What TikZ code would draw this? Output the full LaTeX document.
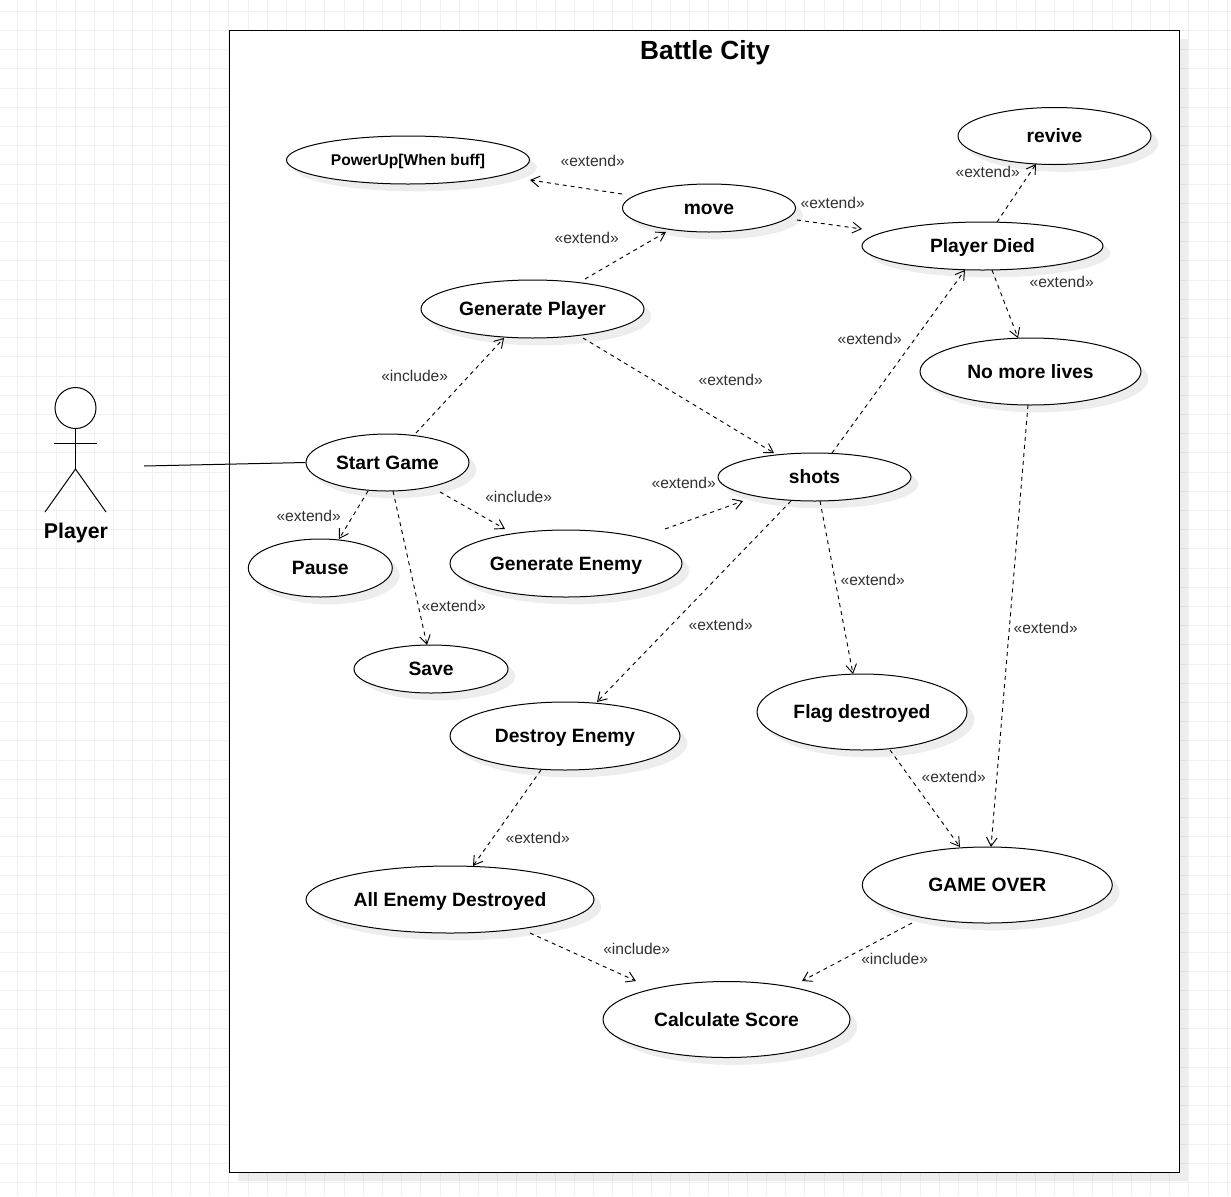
\documentclass[tikz,border=0pt]{standalone}
\usepackage{fontspec}
\setmainfont{Liberation Sans}
\usetikzlibrary{arrows.meta,calc,shadows,shapes.geometric}
\definecolor{gridc}{HTML}{F0F0F0}
\definecolor{labc}{HTML}{303030}
\tikzset{
  px/.style={x=0.75pt,y=-0.75pt},
  softshadow/.style={drop shadow={shadow xshift=#1,shadow yshift=-#1,opacity=.07,fill=black}},
  usecase/.style 2 args={ellipse,draw=black,fill=white,line width=.75pt,inner sep=0pt,
    minimum width=#1*0.75pt,minimum height=#2*0.75pt,softshadow=5.5pt,
    text height=10.4pt,text depth=0pt,
    font=\fontsize{14.45pt}{17pt}\selectfont\bfseries},
  syslabel/.style={inner sep=0pt,text=black,text height=11.4pt,text depth=0pt,font=\fontsize{16pt}{19pt}\selectfont\bfseries},
  steretype/.style={font=\fontsize{11.7pt}{14pt}\selectfont,text=labc,inner sep=0pt,xshift=.5pt,yshift=-.2pt},
  relation/.style={draw=black,line width=.7pt,dash pattern=on 3pt off 3pt,-{Straight Barb[length=6.5pt,width=8pt]}},
  assoc/.style={draw=black,line width=.75pt},
  actorline/.style={draw=black,line width=.75pt},
}
\begin{document}
\begin{tikzpicture}[px]
\useasboundingbox (0,0) rectangle (1231,1196);
\fill[white] (0,0) rectangle (1231,1196);
\foreach \i in {0,...,63} {
  \draw[gridc,line width=.75pt] ({17.6+19.2*\i},0) -- ({17.6+19.2*\i},1196);
  \draw[gridc,line width=.75pt] (0,{11.3+19.2*\i}) -- (1231,{11.3+19.2*\i});
}
% system boundary
\node[rectangle,draw=black,fill=white,line width=.7pt,inner sep=0pt,minimum width=950*0.75pt,minimum height=1142*0.75pt,softshadow=6.5pt] (frame) at (704,601) {};
\node[inner sep=0pt,text height=14.2pt,text depth=0pt,font=\fontsize{19.7pt}{23pt}\selectfont\bfseries] (title) at (705,50) {Battle City};
% use cases
\node[usecase={243}{48},font=\fontsize{11.7pt}{14pt}\selectfont\bfseries,text height=8.4pt] (pu) at (408,160) {PowerUp[When buff]};
\node[usecase={173}{48}] (move) at (709,208) {move};
\node[usecase={193}{57}] (revive) at (1054.5,136) {revive};
\node[usecase={241}{48}] (died) at (982.5,246) {Player Died};
\node[usecase={223}{58}] (gp) at (532.5,309) {Generate Player};
\node[usecase={221}{67}] (nolives) at (1030.5,371.5) {No more lives};
\node[usecase={163}{57}] (start) at (387.5,462.5) {Start Game};
\node[usecase={193}{48}] (shots) at (814.5,477) {shots};
\node[usecase={144}{58}] (pause) at (320.3,568) {Pause};
\node[usecase={232}{67}] (ge) at (566,563.5) {Generate Enemy};
\node[usecase={154}{48}] (save) at (431,669) {Save};
\node[usecase={230}{68}] (de) at (565,736) {Destroy Enemy};
\node[usecase={210}{76}] (flag) at (862,712) {Flag destroyed};
\node[usecase={288}{67}] (all) at (450,899.5) {All Enemy Destroyed};
\node[usecase={250}{76}] (over) at (987.3,885) {GAME OVER};
\node[usecase={247}{76}] (calc) at (726.5,1019.5) {Calculate Score};
% actor
\node[circle,draw=black,fill=white,line width=.75pt,inner sep=0pt,minimum size=41*0.75pt] (head) at (75.5,408) {};
\coordinate (hip) at (75.5,469);
\coordinate (armL) at (54,443);
\coordinate (armR) at (97,443);
\coordinate (footL) at (45,512);
\coordinate (footR) at (106,512);
\coordinate (port) at (144,466);
\draw[actorline] (head.south) -- (hip);
\draw[actorline] (armL) -- (armR);
\draw[actorline] (footL) -- (hip) -- (footR);
\node[syslabel] (playerlabel) at (76,531) {Player};
% connectors
\draw[assoc] (port) -- (start.west);
\draw[relation] ($(move)+(-87,-14)$) -- ($(pu)+(122,20)$);
\draw[relation] ($(move)+(88,12)$) -- ($(died)+(-120.5,-17)$);
\draw[relation] ($(gp)+(52.5,-30)$) -- ($(move)+(-43,24)$);
\draw[relation] ($(died)+(14.5,-24)$) -- ($(revive)+(-18.5,28)$);
\draw[relation] ($(died)+(9.5,24)$) -- ($(nolives)+(-12.5,-33.5)$);
\draw[relation] ($(start)+(28.5,-29.5)$) -- ($(gp)+(-28.5,29)$);
\draw[relation] ($(gp)+(50.5,29)$) -- ($(shots)+(-40.5,-24)$);
\draw[relation] ($(start)+(-19.5,28.5)$) -- ($(pause)+(18.7,-29)$);
\draw[relation] ($(start)+(52.5,29.5)$) -- ($(ge)+(-61,-34.5)$);
\draw[relation] ($(start)+(5.5,28.5)$) -- ($(save)+(-4,-24)$);
\draw[relation] ($(ge)+(99,-34.5)$) -- ($(shots)+(-71.5,24)$);
\draw[relation] ($(shots)+(17.5,-24)$) -- ($(died)+(-17.5,24)$);
\draw[relation] ($(shots)+(-23.5,24)$) -- ($(de)+(32,-34)$);
\draw[relation] ($(shots)+(5.5,24)$) -- ($(flag)+(-9,-38)$);
\draw[relation] ($(nolives)+(-2.5,33.5)$) -- ($(over)+(3.7,-38)$);
\draw[relation] ($(flag)+(28,38)$) -- ($(over)+(-27.3,-38)$);
\draw[relation] ($(de)+(-24,34)$) -- ($(all)+(23,-33.5)$);
\draw[relation] ($(all)+(80,33.5)$) -- ($(calc)+(-90.5,-38.5)$);
\draw[relation] ($(over)+(-75.3,38)$) -- ($(calc)+(75.5,-38.5)$);
% stereotypes
\node[steretype] (l1) at (592,161) {«extend»};
\node[steretype] (l2) at (832,203) {«extend»};
\node[steretype] (l3) at (586,238) {«extend»};
\node[steretype] (l4) at (987,172) {«extend»};
\node[steretype] (l5) at (1061,282) {«extend»};
\node[steretype] (l6) at (869,339) {«extend»};
\node[steretype] (l7) at (730,380) {«extend»};
\node[steretype] (l8) at (683,483) {«extend»};
\node[steretype] (l9) at (308,516) {«extend»};
\node[steretype] (l10) at (453,606) {«extend»};
\node[steretype] (l11) at (872,580) {«extend»};
\node[steretype] (l12) at (720,625) {«extend»};
\node[steretype] (l13) at (1045,628) {«extend»};
\node[steretype] (l14) at (953,777) {«extend»};
\node[steretype] (l15) at (537,838) {«extend»};
\node[steretype] (l16) at (414,376) {«include»};
\node[steretype] (l17) at (518,497) {«include»};
\node[steretype] (l18) at (636,949) {«include»};
\node[steretype] (l19) at (894,959) {«include»};
\end{tikzpicture}
\end{document}
